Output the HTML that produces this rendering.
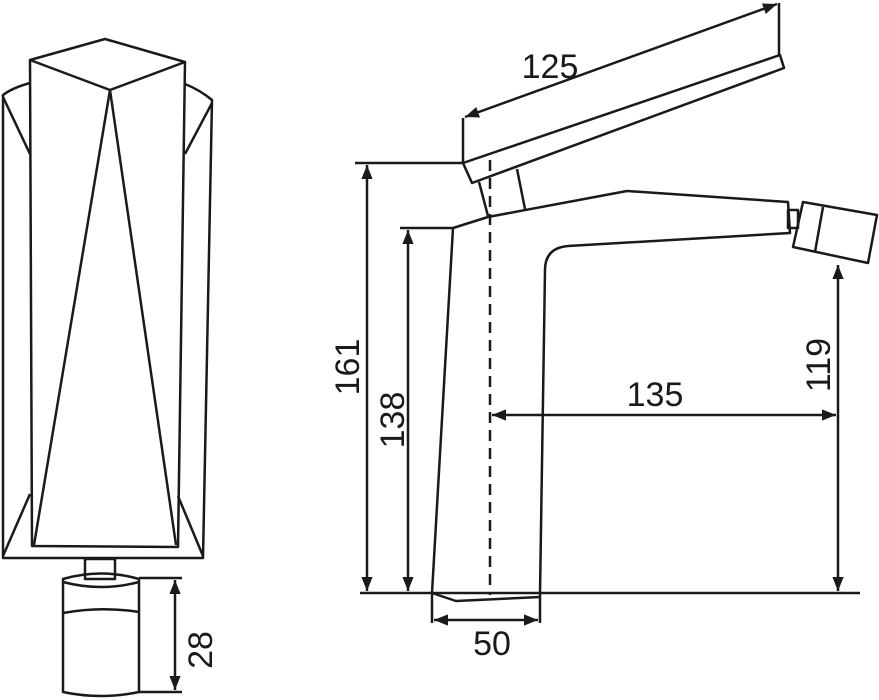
<!DOCTYPE html>
<html><head><meta charset="utf-8"><style>
html,body{margin:0;padding:0;background:#fff;}
svg{display:block;}
text{font-family:"Liberation Sans",Arial,sans-serif;font-size:34px;fill:#1a1a1a;}
</style></head><body>
<svg width="879" height="700" viewBox="0 0 879 700" xmlns="http://www.w3.org/2000/svg">
<defs>
<marker id="a" viewBox="0 0 10 10" refX="10" refY="5" markerWidth="14" markerHeight="14" markerUnits="userSpaceOnUse" orient="auto-start-reverse"><path d="M0,1 L10,5 L0,9 z" fill="#1a1a1a"/></marker>
</defs>
<g fill="none" stroke="#1a1a1a" stroke-width="2.5" stroke-linejoin="round">
<polygon points="30,60 105,39 185,62 110,90"/>
<polyline points="30,60 32,546 178,547 185,62"/>
<polyline points="34,545 110,90 176,545"/>
<path d="M30,83 Q12,88 3,95 L3,558 L203,558 L212,100 Q200,90 185,84"/>
<line x1="3" y1="97" x2="30" y2="154"/>
<line x1="212" y1="103" x2="185" y2="154"/>
<line x1="3" y1="556" x2="30" y2="494"/>
<line x1="203" y1="556" x2="178" y2="496"/>
<rect x="85" y="559" width="30" height="20"/>
<path d="M63,579 Q101,568 139,579 L139,692 Q101,700 63,692 Z"/>
<path d="M63,582 Q101,592 139,582"/>
<path d="M63,613 Q101,606 139,612"/>
<line x1="139" y1="578" x2="182" y2="578"/>
<line x1="139" y1="692" x2="182" y2="692"/>
<line x1="175" y1="580" x2="175" y2="690" marker-start="url(#a)" marker-end="url(#a)"/>
<polygon points="463,163 780,55 784,68 472,183"/>
<line x1="463" y1="163" x2="463" y2="118"/>
<line x1="779" y1="56" x2="779" y2="3"/>
<line x1="465" y1="117" x2="777" y2="4" marker-start="url(#a)" marker-end="url(#a)"/>
<line x1="479" y1="182" x2="488" y2="216"/>
<line x1="517" y1="169" x2="525" y2="209"/>
<polyline points="432,593 453,228 488,217 627,191 788,202 790,233 568,246"/>
<path d="M568,246 Q545,248 545,270 L540,593"/>
<polyline points="432,593 456,601 540,597"/>
<rect x="788" y="210" width="10" height="18"/>
<polygon points="803,202 877,215 868,263 793,247"/>
<line x1="823" y1="207" x2="815" y2="252"/>
<line x1="490" y1="160" x2="490" y2="595" stroke-dasharray="11,7"/>
<line x1="360" y1="593" x2="860" y2="593"/>
<line x1="355" y1="163" x2="463" y2="163"/>
<line x1="367" y1="165" x2="367" y2="591" marker-start="url(#a)" marker-end="url(#a)"/>
<line x1="400" y1="228" x2="453" y2="228"/>
<line x1="408" y1="230" x2="408" y2="591" marker-start="url(#a)" marker-end="url(#a)"/>
<line x1="838" y1="265" x2="838" y2="591" marker-start="url(#a)" marker-end="url(#a)"/>
<line x1="492" y1="415" x2="836" y2="415" marker-start="url(#a)" marker-end="url(#a)"/>
<line x1="432" y1="593" x2="432" y2="623"/>
<line x1="540" y1="593" x2="540" y2="623"/>
<line x1="434" y1="620" x2="538" y2="620" marker-start="url(#a)" marker-end="url(#a)"/>
</g>
<text x="550" y="78" text-anchor="middle">125</text>
<text x="655" y="406" text-anchor="middle">135</text>
<text x="492" y="655" text-anchor="middle">50</text>
<text transform="translate(359,367) rotate(-90)" text-anchor="middle">161</text>
<text transform="translate(404,420) rotate(-90)" text-anchor="middle">138</text>
<text transform="translate(830,365) rotate(-90)" text-anchor="middle">119</text>
<text transform="translate(212,650) rotate(-90)" text-anchor="middle">28</text>
</svg>
</body></html>
